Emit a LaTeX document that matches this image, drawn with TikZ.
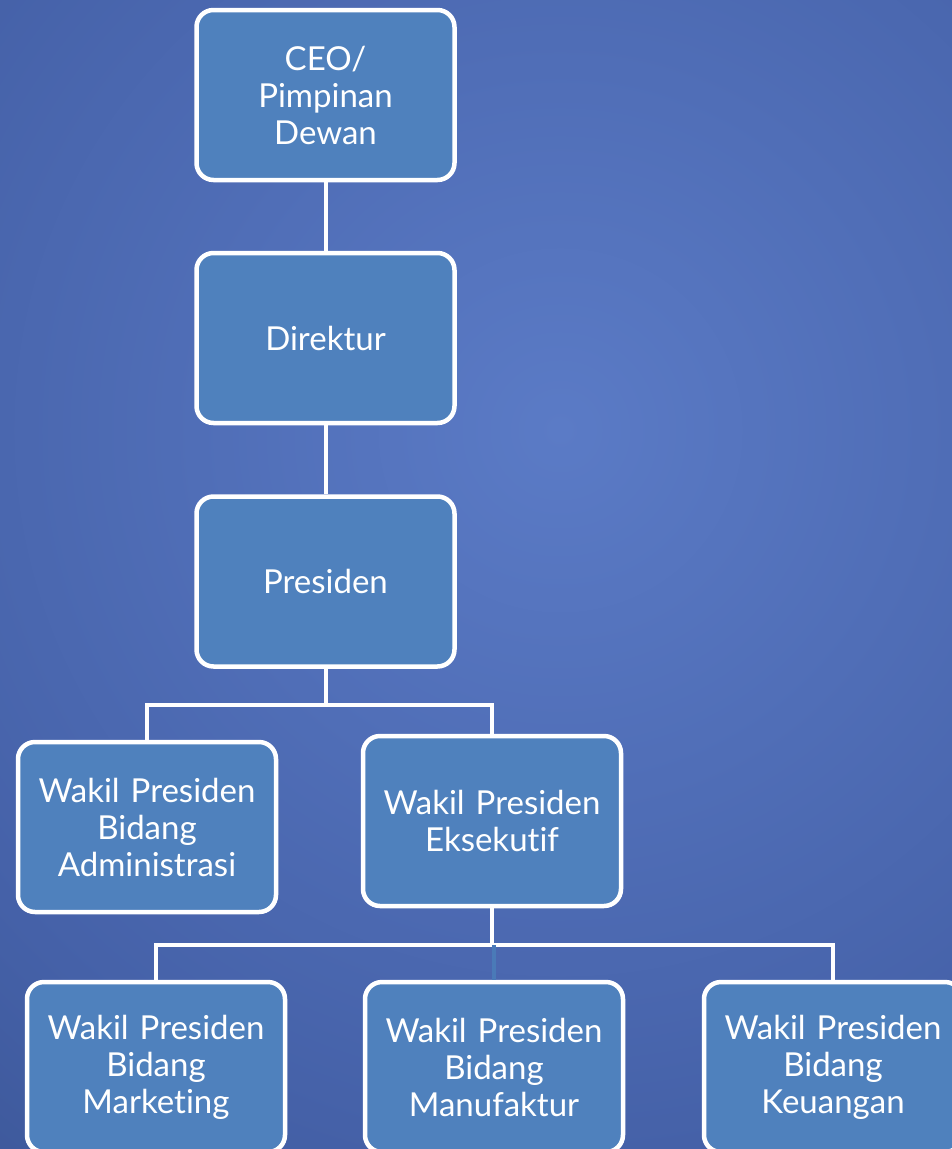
\documentclass[tikz,border=0pt]{standalone}
\usepackage{fontspec}
\setmainfont{Lato}[Ligatures={NoCommon}]
\definecolor{bgA}{HTML}{5B7BC6}
\definecolor{bgB}{HTML}{4561A8}
\definecolor{bgM}{HTML}{3A5595}
\definecolor{bgC}{HTML}{2C4782}
\definecolor{boxfill}{HTML}{4F81BD}
\definecolor{faintline}{HTML}{4A7AB8}
\pgfdeclareradialshading{bgshade}{\pgfpoint{0bp}{0bp}}{color(0bp)=(bgA); color(14bp)=(bgB); color(20bp)=(bgM); color(25bp)=(bgC); color(50bp)=(bgC)}
\tikzset{
  orgbox/.style={draw=white, line width=4.5pt, fill=boxfill, rounded corners=17pt,
    minimum width=258pt, minimum height=170pt, text width=254pt, align=center,
    text=white, font=\fontsize{33}{37}\selectfont, inner sep=0pt},
  conn/.style={draw=white, line width=4pt},
  faint/.style={draw=faintline, line width=4pt}
}
\begin{document}
\begin{tikzpicture}[x=1pt,y=1pt]
\useasboundingbox (0,0) rectangle (952,-1149);
\begin{scope}
\clip (0,0) rectangle (952,-1149);
\shade[shading=bgshade] (560,-430) circle (1300);
\end{scope}
% boxes
\node[orgbox] (ceo) at (325.5,-95) {CEO/\\Pimpinan\\Dewan};
\node[orgbox] (dir) at (325.5,-338) {Direktur};
\node[orgbox] (pres) at (325.5,-581.5) {Presiden};
\node[orgbox] (adm) at (147,-827) {Wakil Presiden\\Bidang\\Administrasi};
\node[orgbox] (eks) at (492,-821) {Wakil Presiden\\Eksekutif};
\node[orgbox] (mkt) at (156,-1067) {Wakil Presiden\\Bidang\\Marketing};
\node[orgbox] (man) at (494,-1067) {Wakil Presiden\\Bidang\\Manufaktur};
\node[orgbox] (keu) at (833,-1067) {Wakil Presiden\\Bidang\\Keuangan};
% connectors
\coordinate (j1) at (325.5,-705);
\coordinate (j2) at (492,-945);
\draw[conn] (ceo.south) -- (dir.north);
\draw[conn] (dir.south) -- (pres.north);
\draw[conn] (pres.south) -- (j1);
\draw[conn] (j1) -| (adm.north);
\draw[conn] (j1) -| (eks.north);
\draw[conn] (eks.south) -- (j2);
\draw[conn] (j2) -| (mkt.north);
\draw[conn] (j2) -| (keu.north);
\draw[faint] (man.north) -- (man.north |- j2);
\end{tikzpicture}
\end{document}
